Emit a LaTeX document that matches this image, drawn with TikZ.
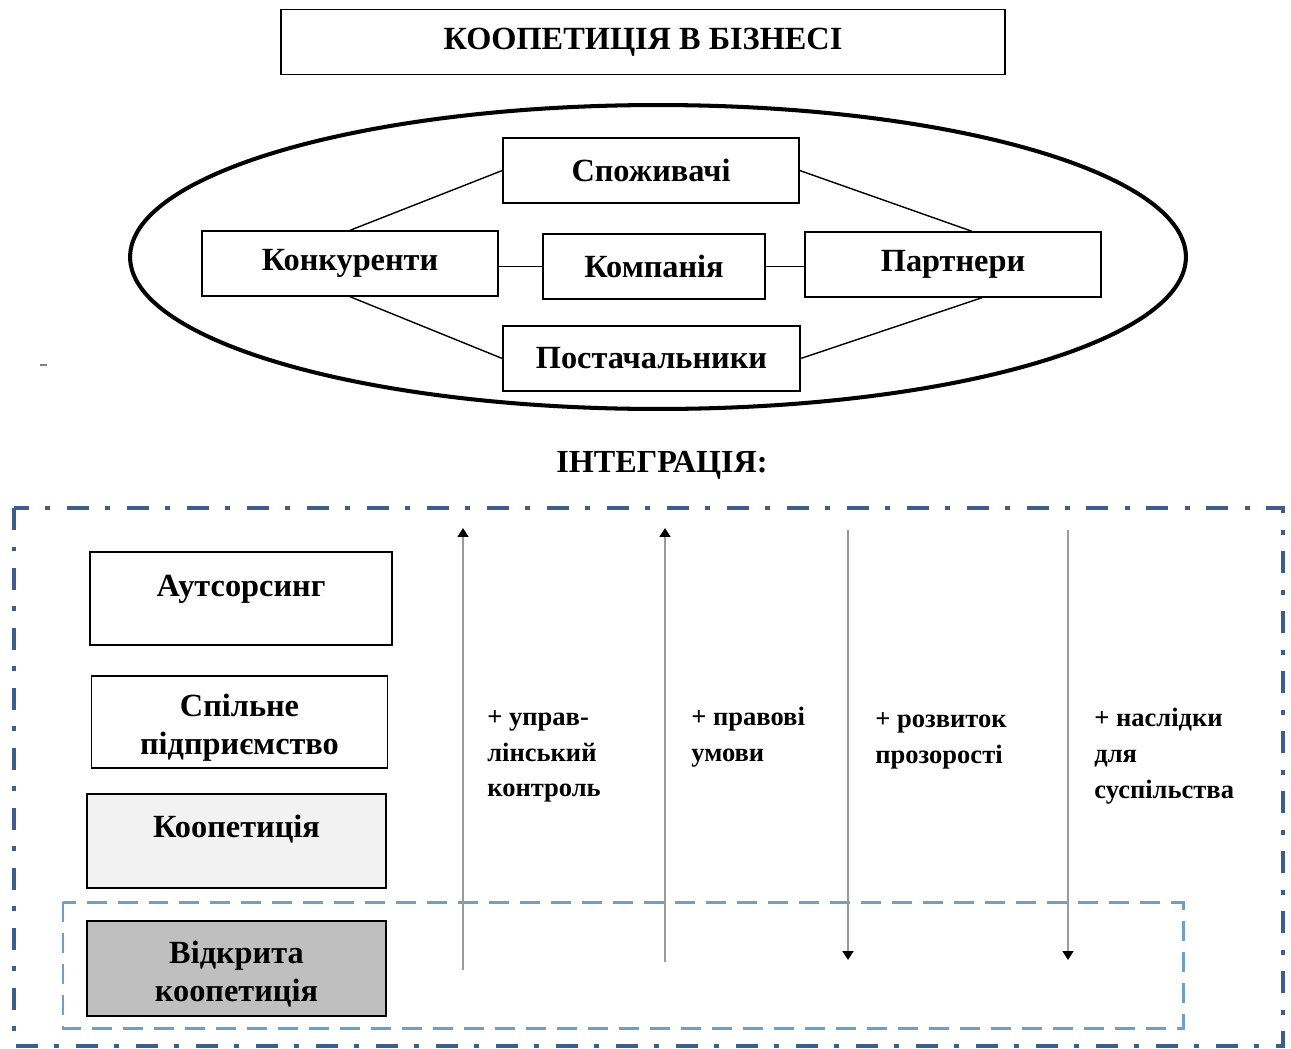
\documentclass[tikz,border=0pt]{standalone}
\usepackage{fontspec}
\setmainfont{Liberation Serif}
\usetikzlibrary{positioning,arrows.meta}

\definecolor{frameblue}{HTML}{3B5E8C}
\definecolor{innerblue}{HTML}{6E9FC6}
\definecolor{flowgray}{HTML}{9A9A9A}
\definecolor{koopfill}{HTML}{F2F2F2}
\definecolor{vidkfill}{HTML}{BFBFBF}

\tikzset{
  box/.style={draw, line width=0.8pt, inner sep=0pt, align=center,
    minimum width=5.92cm, minimum height=1.3cm,
    font=\bfseries\fontsize{18.4}{22}\selectfont},
  sidebox/.style={box, font=\bfseries\fontsize{18.4}{21.6}\selectfont},
  toptext/.style={text height=#1, text depth=1.86cm-#1},
  flow/.style={flowgray, line width=1.4pt, -{Triangle[black,length=5pt,width=6pt]}},
  note/.style={anchor=north west, inner sep=0pt, align=left,
    font=\bfseries\fontsize{15.1}{20.3}\selectfont}
}

\begin{document}
\begin{tikzpicture}[x=0.02cm, y=-0.02cm]

\useasboundingbox (0,0) rectangle (1291,1048);

% top part
\node[box, minimum width=14.48cm] (title) at (643,42) {КООПЕТИЦІЯ В БІЗНЕСІ};

\draw[line width=2.3pt] (658,257) ellipse [x radius=10.56cm, y radius=3.04cm];

\node[box] (cons) at (651,170.5) {Споживачі};
\node[box] (konk) at (350,263.5) {Конкуренти};
\node[box, minimum width=4.44cm] (komp) at (654,266.5) {Компанія};
\node[box] (part) at (953,264.5) {Партнери};
\node[box, minimum width=5.94cm] (post) at (651.5,358.5) {Постачальники};

\draw[line width=0.8pt] (konk.north) -- (cons.west);
\draw[line width=0.8pt] (cons.east) -- ([xshift=0.38cm]part.north);
\draw[line width=0.8pt] (konk.south) -- (post.west);
\draw[line width=0.8pt] (post.east) -- ([xshift=0.58cm]part.south);
\draw[line width=0.8pt] (komp.west -| konk.east) -- (komp.west);
\draw[line width=0.8pt] (komp.east) -- (komp.east -| part.west);

\coordinate (mark) at (40,365);
\draw[gray, line width=1pt] (mark) -- ++(7,0);

\node[font=\bfseries\fontsize{18.3}{22}\selectfont] (integ) at (662,465) {ІНТЕГРАЦІЯ:};

% frames
\draw[frameblue, line width=2.8pt, dash pattern=on 0.44cm off 0.33cm on 0.1cm off 0.33cm]
  (14,508) rectangle (1283,1046);
\draw[innerblue, line width=1.7pt, dash pattern=on 0.4cm off 0.22cm]
  (63,902) rectangle (1183,1028);

% forms of integration
\node[sidebox, minimum width=6.04cm, minimum height=1.86cm, toptext=0.88cm] (aut) at (241,598.5) {Аутсорсинг};
\node[sidebox, minimum height=1.84cm] (spil) at (239.5,722) {\rule{0pt}{1.07em}Спільне\\підприємство};
\node[sidebox, fill=koopfill, minimum width=5.98cm, minimum height=1.88cm, toptext=0.86cm] (koop) at (236.5,841) {Коопетиція};
\node[sidebox, fill=vidkfill, minimum width=5.98cm, minimum height=1.9cm] (vidk) at (236.5,968.5) {\rule{0pt}{1.01em}Відкрита\\коопетиція};

% arrows
\foreach \n/\x/\ya/\yb in {1/463/970/528, 2/665/962/528, 3/848/530/960, 4/1068/530/960}{
  \coordinate (s\n) at (\x,\ya);
  \coordinate (e\n) at (\x,\yb);
  \draw[flow] (s\n) -- (e\n);
}

\node[note] (n1) at (487,710) {+ управ-\\лінський\\контроль};
\node[note] (n2) at (691,707) {+ правові\\умови};
\node[note] (n3) at (875,712) {+ розвиток\\прозорості};
\node[note] (n4) at (1094,708) {+ наслідки\\для\\суспільства};

\end{tikzpicture}
\end{document}
